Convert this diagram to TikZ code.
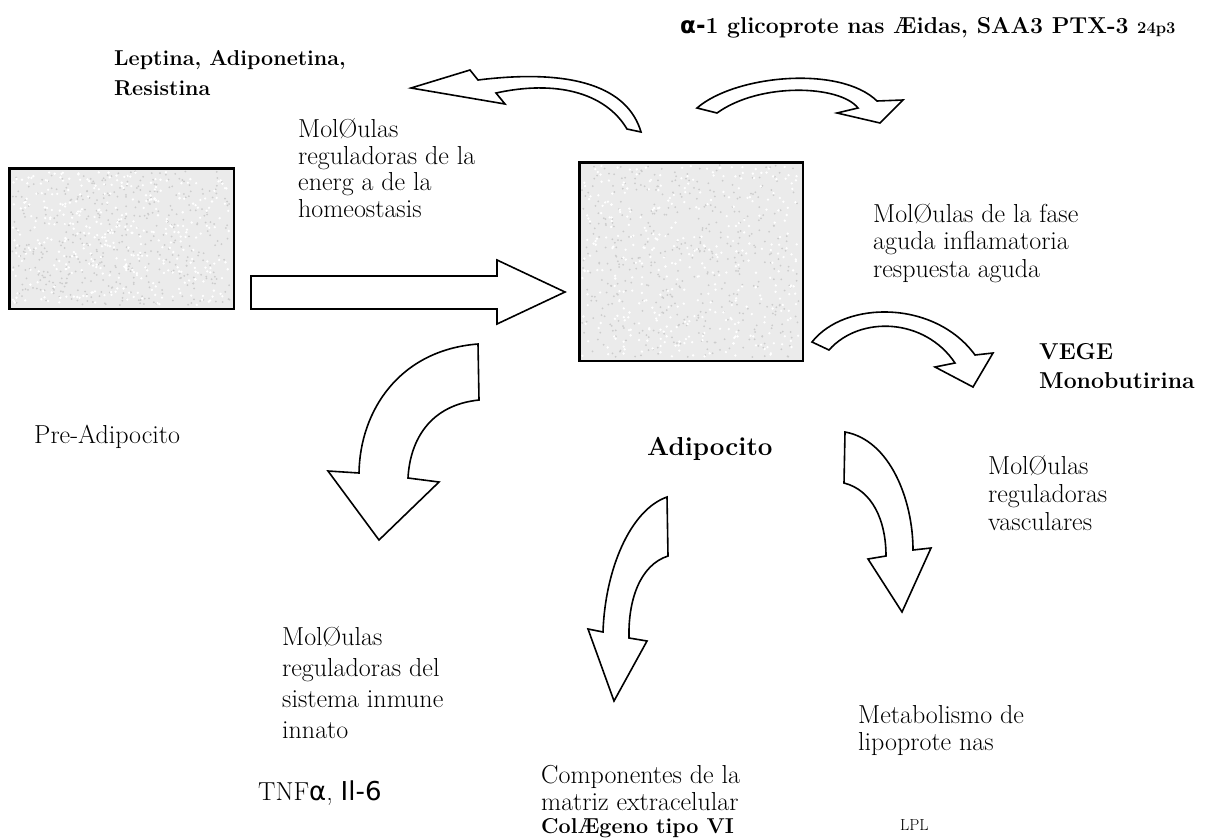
\documentclass[tikz,border=0pt]{standalone}
\usepackage{fontspec}
\newfontfamily\dejavu{DejaVu Sans}
\begin{document}
\begin{tikzpicture}[x=1pt,y=-1pt,
  blockarrow/.style={draw=black, line width=1.6pt, fill=white, line join=miter},
  cellbox/.style={draw=black, line width=1.6pt, fill=black!8},
  lbl/.style={anchor=base west, inner sep=0pt, align=left, font=\fontsize{26}{27}\selectfont},
  blbl/.style={lbl, font=\fontsize{22}{30}\selectfont\bfseries}
]
\useasboundingbox (0,0) rectangle (1209,839);
\fill[white] (0,0) rectangle (1209,839);

% boxes with speckle texture
\node[cellbox, minimum width=224pt, minimum height=140pt, anchor=north west, inner sep=0pt] (pre) at (9,168) {};
\node[cellbox, minimum width=223pt, minimum height=198pt, anchor=north west, inner sep=0pt] (adi) at (579,162) {};
\pgfmathsetseed{7}
\foreach \i in {1,...,450}{
  \pgfmathsetmacro\xx{12+218*rnd}\pgfmathsetmacro\yy{171+134*rnd}
  \fill[black!20] (\xx,\yy) circle (1.0pt);
  \pgfmathsetmacro\xb{582+217*rnd}\pgfmathsetmacro\yb{165+192*rnd}
  \fill[black!20] (\xb,\yb) circle (1.0pt);
}
\foreach \i in {1,...,380}{
  \pgfmathsetmacro\xx{12+218*rnd}\pgfmathsetmacro\yy{171+134*rnd}
  \fill[white] (\xx,\yy) circle (1.3pt);
  \pgfmathsetmacro\xb{582+217*rnd}\pgfmathsetmacro\yb{165+192*rnd}
  \fill[white] (\xb,\yb) circle (1.3pt);
}
\draw[line width=1.6pt] (pre.north west) rectangle (pre.south east);
\draw[line width=1.6pt] (adi.north west) rectangle (adi.south east);

% straight arrow
\draw[blockarrow] (251,276) -- (497,276) -- (497,260) -- (565,292) -- (497,324) -- (497,309) -- (251,309) -- cycle;

% arrow A (to Leptina)
\draw[blockarrow] (641,132) .. controls (628,88) and (575,68) .. (478,80)
  -- (470,70) -- (411,88) -- (505,104) -- (496,93)
  .. controls (555,80) and (605,92) .. (627,129) -- cycle;

% arrow B (to alpha-1)
\draw[blockarrow] (697,108) .. controls (735,75) and (840,65) .. (877,101)
  -- (903,100) -- (880,123) -- (837,113) -- (858,108)
  .. controls (840,85) and (760,82) .. (717,113) -- cycle;

% arrow C (to VEGE)
\draw[blockarrow] (812,342) .. controls (845,300) and (935,300) .. (975,355)
  -- (993,353) -- (973,387) -- (935,367) -- (955,363)
  .. controls (925,318) and (860,315) .. (829,350) -- cycle;

% arrow D (to Metabolismo)
\draw[blockarrow] (845,432) .. controls (890,440) and (913,500) .. (913,550)
  -- (931,548) -- (902,612) -- (868,559) -- (886,556)
  .. controls (886,520) and (872,490) .. (844,483) -- cycle;

% arrow E (to Componentes)
\draw[blockarrow] (667,497) .. controls (630,510) and (605,570) .. (603,632)
  -- (588,629) -- (614,701) -- (647,641) -- (629,638)
  .. controls (628,600) and (640,565) .. (668,556) -- cycle;

% arrow F (to sistema inmune)
\draw[blockarrow] (478,344) .. controls (400,350) and (360,410) .. (359,473)
  -- (328,471) -- (379,540) -- (439,482) -- (408,478)
  .. controls (410,440) and (430,405) .. (479,400) -- cycle;

% texts
\node[blbl, font=\fontsize{21.5}{30}\selectfont\bfseries] (lep) at (114,95) {Leptina, Adiponetina,\\Resistina};
\node[blbl, font=\fontsize{23}{30}\selectfont\bfseries] (alf) at (680,33) {{\dejavu α-}1 glicoprote nas Æidas, SAA3 PTX-3 {\fontsize{16.5}{18}\selectfont 24p3}};
\node[lbl, font=\fontsize{26}{26.5}\selectfont] (ener) at (298,217) {MolØulas\\reguladoras de la\\energ a de la\\homeostasis};
\node[lbl, font=\fontsize{26}{27.5}\selectfont] (fase) at (873,277) {MolØulas de la fase\\aguda inflamatoria\\respuesta aguda};
\node[blbl, font=\fontsize{23}{29}\selectfont\bfseries] (vege) at (1039,388) {VEGE\\Monobutirina};
\node[lbl] (prel) at (34,443) {Pre-Adipocito};
\node[lbl, font=\fontsize{26}{30}\selectfont\bfseries] (adil) at (647,455) {Adipocito};
\node[lbl, font=\fontsize{26}{28}\selectfont] (vasc) at (988,530) {MolØulas\\reguladoras\\vasculares};
\node[lbl, font=\fontsize{26}{31}\selectfont] (inm) at (282,738) {MolØulas\\reguladoras del\\sistema inmune\\innato};
\node[lbl] (meta) at (858,750) {Metabolismo de\\lipoprote nas};
\node[lbl] (comp) at (541,810) {Componentes de la\\matriz extracelular};
\node[lbl] (tnf) at (258,800) {TNF{\dejavu α}, {\dejavu Il-6}};
\node[blbl, font=\fontsize{21.5}{30}\selectfont\bfseries] (col) at (541,833) {ColÆgeno tipo VI};
\node[lbl, font=\fontsize{16}{18}\selectfont] (lpl) at (900,830) {LPL};
\end{tikzpicture}
\end{document}
